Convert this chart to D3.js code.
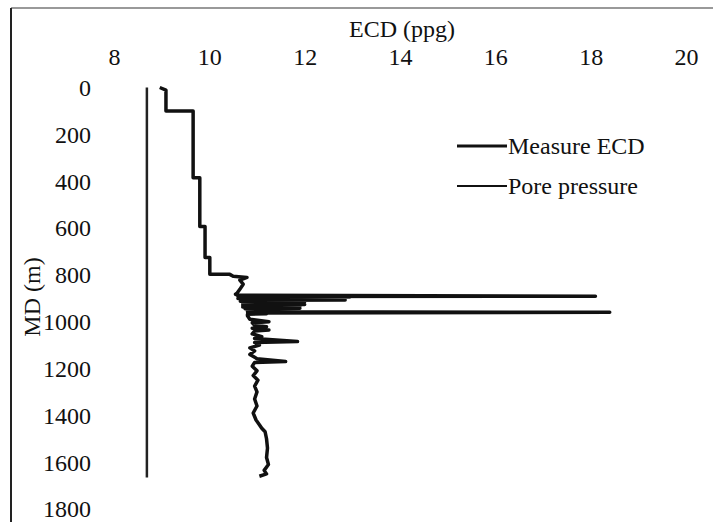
<!DOCTYPE html>
<html>
<head>
<meta charset="utf-8">
<script src="https://cdn.jsdelivr.net/npm/d3@7"></script>
<style>
  html, body { margin: 0; padding: 0; background: #fff; }
  svg { display: block; }
  svg text { font-family: "Liberation Serif", "DejaVu Serif", "Times New Roman", Times, serif !important; fill: #111; }
</style>
</head>
<body>
<svg id="chart" width="713" height="522"></svg>
<script>
// ---- data ----
const xTicks = [8, 10, 12, 14, 16, 18, 20];
const yTicks = [0, 200, 400, 600, 800, 1000, 1200, 1400, 1600, 1800];

const poreDepth = [0, 1665];
const porePressure = [8.69, 8.69];

const ecdDepth = [
  0, 11, 100, 100, 385, 385, 594, 594, 726, 726, 798, 798, 806, 811, 823, 840, 862, 879,
  883, 887, 891, 893, 895, 897, 899, 901, 903, 905, 907, 909, 911, 913, 915, 917, 919, 921, 923, 925, 927, 929, 931,
  933, 935, 937, 939, 941, 943, 945, 947, 949, 951, 953, 955, 958, 960, 963, 966, 968,
  975, 990, 1000, 1005, 1015, 1022, 1028, 1036, 1040, 1052, 1064, 1072, 1085, 1089, 1100, 1112, 1125, 1140, 1158,
  1170, 1174, 1190, 1210, 1230, 1250, 1275, 1300, 1330, 1360, 1390, 1420, 1440, 1455, 1470, 1500, 1540, 1580,
  1610, 1635, 1650, 1660
];
const ecdValue = [
  8.96, 9.09, 9.09, 9.66, 9.66, 9.80, 9.80, 9.91, 9.91, 10.01, 10.01, 10.43, 10.50, 10.79, 10.64, 10.71, 10.64, 10.58,
  10.55, 10.6, 18.1, 10.6, 12.95, 10.65, 12.3, 10.6, 11.9, 10.65, 12.85, 10.7, 11.9, 10.65, 12.0, 10.7, 11.8, 10.7, 11.9, 10.75, 12.0, 10.7, 11.8,
  10.75, 11.9, 10.7, 11.8, 10.75, 11.9, 10.75, 11.8, 10.8, 11.7, 10.8, 11.6, 10.8, 18.4, 10.85, 11.2, 10.8,
  10.8, 10.85, 11.25, 10.9, 10.95, 11.2, 10.9, 11.25, 10.95, 10.9, 11.1, 10.95, 11.85, 10.95, 11.05, 10.85, 10.95, 10.85, 11.0,
  11.6, 10.95, 10.9, 11.0, 10.92, 11.02, 10.95, 11.0, 10.95, 11.0, 10.92, 10.98, 11.05, 11.1, 11.17, 11.2, 11.22, 11.2,
  11.24, 11.15, 11.2, 11.05
];

const seriesNames = ["Measure ECD", "Pore pressure"];

// ---- chart ----
const svg = d3.select("#chart");
const FONT = "'Liberation Serif', 'DejaVu Serif', 'Times New Roman', serif";

// frame (scanned page border)
svg.append("line").attr("x1", 11).attr("x2", 713).attr("y1", 8).attr("y2", 8)
  .attr("stroke", "#777").attr("stroke-width", 1.5);
svg.append("line").attr("x1", 11).attr("x2", 11).attr("y1", 8).attr("y2", 522)
  .attr("stroke", "#222").attr("stroke-width", 2);

const x = d3.scaleLinear().domain([8, 20]).range([114, 686]);
const y = d3.scaleLinear().domain([0, 1800]).range([87.5, 509]);

// top axis
const gx = svg.append("g").attr("transform", "translate(0,65)")
  .call(d3.axisTop(x).tickValues(xTicks).tickSize(0).tickPadding(0).tickFormat(d3.format("d")));
gx.attr("font-family", FONT).attr("font-size", 24);
gx.select(".domain").remove();
gx.selectAll("text").attr("fill", "#111").attr("dy", 0);

// left axis
const gy = svg.append("g").attr("transform", "translate(91,0)")
  .call(d3.axisLeft(y).tickValues(yTicks).tickSize(0).tickPadding(0).tickFormat(d3.format("d")));
gy.attr("font-family", FONT).attr("font-size", 24);
gy.select(".domain").remove();
gy.selectAll("text").attr("fill", "#111").attr("dy", "0.33em");

// axis titles
svg.append("text").attr("x", 402).attr("y", 37).attr("text-anchor", "middle")
  .attr("font-family", FONT).attr("font-size", 24).text("ECD (ppg)");
svg.append("text").attr("transform", "translate(40,297) rotate(-90)").attr("text-anchor", "middle")
  .attr("font-family", FONT).attr("font-size", 24).text("MD (m)");

// lines
const line = d3.line().x(d => x(d[1])).y(d => y(d[0]));

const poreData = poreDepth.map((d, i) => [d, porePressure[i]]);
svg.append("path").datum(poreData).attr("d", line)
  .attr("fill", "none").attr("stroke", "#222").attr("stroke-width", 2.5);

const ecdData = ecdDepth.map((d, i) => [d, ecdValue[i]]);
svg.append("path").datum(ecdData).attr("d", line)
  .attr("fill", "none").attr("stroke", "#111").attr("stroke-width", 3.5)
  .attr("stroke-linejoin", "round");

// legend
const legend = svg.append("g");
const legW = [3.2, 2];
const legY = [146, 186];
seriesNames.forEach((name, i) => {
  legend.append("line").attr("x1", 457).attr("x2", 507).attr("y1", legY[i]).attr("y2", legY[i])
    .attr("stroke", "#111").attr("stroke-width", legW[i]);
  legend.append("text").attr("x", 508).attr("y", legY[i] + 8)
    .attr("font-family", FONT).attr("font-size", 24).text(name);
});
</script>
</body>
</html>
